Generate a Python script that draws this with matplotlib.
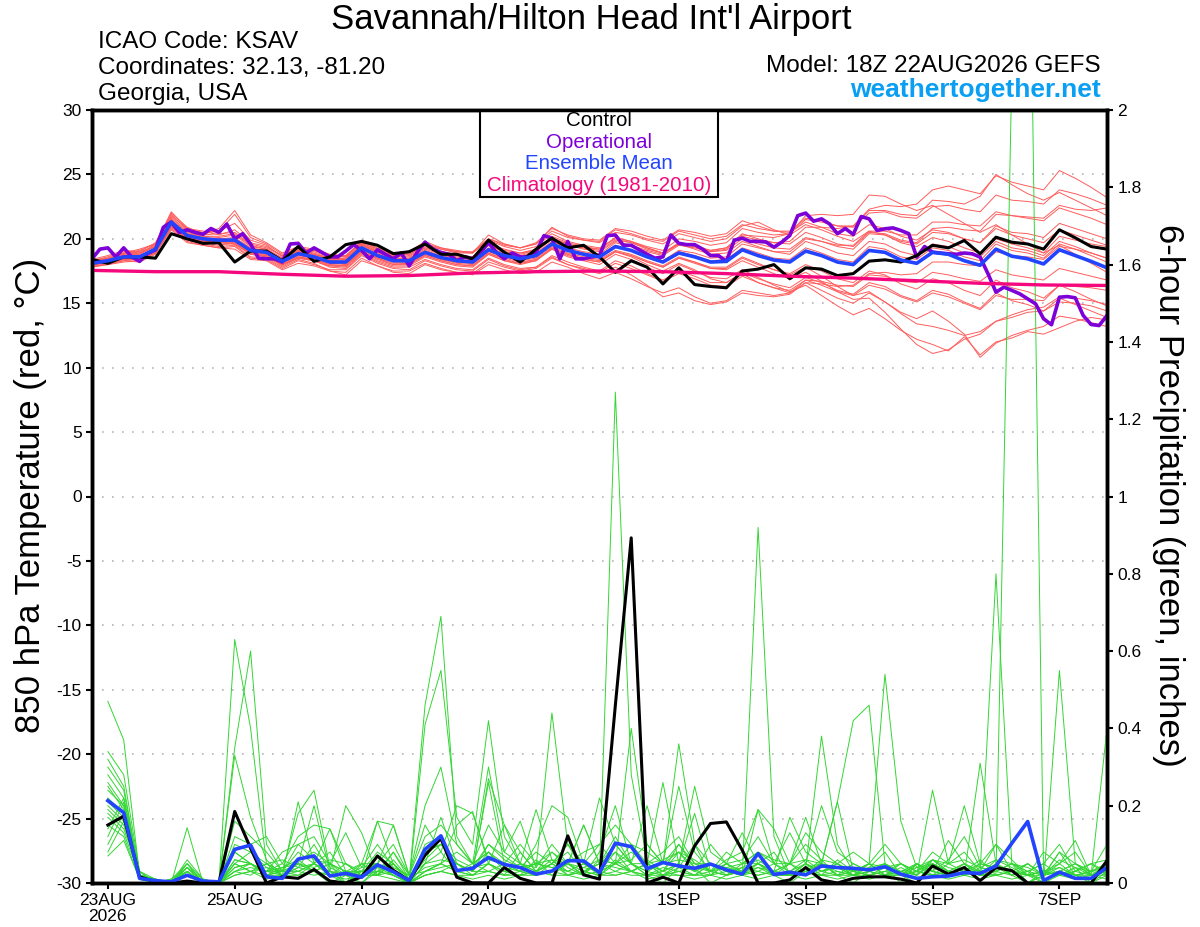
import matplotlib
matplotlib.use("Agg")
import matplotlib.pyplot as plt
from matplotlib.patches import Rectangle
from matplotlib import font_manager

plt.rcParams['font.family'] = ['Liberation Sans', 'DejaVu Sans']

# forecast hours since 18Z 22AUG2026
fhours_6 = list(range(0, 385, 6))
fhours_3 = list(range(0, 385, 3))
fhours_precip = list(range(6, 385, 6))

tick_hours = [6, 54, 102, 150, 222, 270, 318, 366]
tick_labels = ['23AUG\n2026', '25AUG', '27AUG', '29AUG', '1SEP', '3SEP', '5SEP', '7SEP']

# 850 hPa temperature (C)
control_t = [18.4, 18.1, 18.6, 18.6, 18.5, 20.4, 20.0, 19.65,
             19.7, 18.2, 19.05, 19.05, 18.3, 19.4, 18.25, 18.6,
             19.55, 19.8, 19.5, 18.85, 19.0, 19.6, 18.8, 18.8,
             18.45, 19.9, 18.95, 18.2, 19.2, 20.05, 19.3, 19.5,
             18.6, 17.4, 18.3, 17.8, 16.5, 17.75, 16.45, 16.3,
             16.2, 17.5, 17.65, 18.0, 16.9, 17.75, 17.65, 17.15,
             17.3, 18.27, 18.37, 18.2, 18.7, 19.5, 19.3, 19.87,
             18.84, 20.13, 19.74, 19.6, 19.2, 20.7, 20.08, 19.4,
             19.2]

mean_t = [18.1, 18.3, 18.6, 18.6, 19.2, 21.3, 20.25, 20.0,
          19.9, 19.9, 19.1, 18.95, 18.25, 18.85, 18.6, 18.2,
          18.2, 19.3, 18.7, 18.3, 18.3, 18.95, 18.55, 18.3,
          18.2, 19.15, 18.7, 18.45, 18.7, 19.6, 19.1, 18.8,
          18.6, 19.4, 19.1, 18.6, 18.2, 18.9, 18.6, 18.2,
          18.25, 19.15, 18.7, 18.35, 18.2, 19.05, 18.7, 18.2,
          18.0, 19.1, 18.95, 18.35, 18.1, 18.95, 18.8, 18.3,
          17.95, 19.2, 18.65, 18.45, 18.05, 19.15, 18.7, 18.25,
          17.75]

oper_t = [18.45, 19.2, 19.3, 18.6, 19.3, 18.6, 18.25, 18.85, 19.15, 20.9, 21.3,
          20.5, 20.7, 20.5, 20.35, 20.8, 20.5, 21.15, 20.0, 20.4, 19.6, 18.5,
          18.45, 18.45, 18.2, 19.6, 19.65, 18.9, 19.3, 18.95, 18.6, 18.6, 19.05,
          19.55, 19.1, 18.45, 19.15, 18.8, 18.45, 18.9, 17.9, 18.95, 19.75, 19.2,
          18.95, 18.8, 18.3, 18.6, 18.45, 18.95, 19.7, 18.95, 18.45, 18.9, 18.6,
          18.6, 18.95, 20.25, 20.05, 18.45, 19.8, 18.45, 18.45, 18.6, 18.7, 20.25,
          20.3, 19.5, 19.5, 19.15, 18.8, 18.5, 18.6, 20.3, 19.65, 19.55, 19.55,
          19.2, 18.7, 18.7, 18.25, 19.9, 20.05, 19.8, 19.8, 19.75, 19.35, 19.75,
          20.26, 21.8, 22.0, 21.37, 21.55, 21.16, 20.4, 20.8, 20.34, 21.73, 21.55,
          20.65, 20.78, 20.85, 20.65, 20.4, 18.58, 19.4, 18.97, 18.9, 18.84, 18.8,
          18.9, 18.84, 18.58, 17.28, 15.86, 16.25, 16.0, 15.73, 15.34, 14.95, 13.8,
          13.33, 15.47, 15.52, 15.42, 14.05, 13.35, 13.27, 14.05]

clim_hours = list(range(0, 385, 24))
clim_t = [17.55, 17.45, 17.45, 17.25, 17.1, 17.15, 17.35, 17.45, 17.5,
          17.45, 17.3, 17.1, 16.95, 16.75, 16.55, 16.42, 16.38]

temp_members = [
    [18.3, 18.6, 19.0, 18.9, 19.5, 21.7, 20.6, 20.3, 20.4, 20.5, 19.6, 19.3, 18.7,
     19.2, 19.0, 18.6, 18.7, 19.7, 19.1, 18.7, 18.8, 19.4, 19.0, 18.8, 18.6, 19.6,
     19.2, 18.9, 19.2, 20.2, 19.7, 19.4, 19.2, 20.1, 19.8, 19.3, 18.9, 19.6, 19.4,
     19.0, 19.1, 20.0, 19.6, 19.3, 19.2, 20.1, 19.8, 19.4, 19.2, 20.4, 20.3, 19.8,
     19.6, 20.5, 20.4, 20.0, 19.7, 21.0, 20.5, 20.4, 20.1, 21.2, 20.8, 20.4, 20.0],
    [17.9, 18.0, 18.3, 18.2, 18.8, 20.8, 19.8, 19.5, 19.3, 19.4, 18.5, 18.4, 17.7,
     18.3, 18.0, 17.6, 17.6, 18.7, 18.1, 17.7, 17.6, 18.3, 17.9, 17.6, 17.5, 18.4,
     17.9, 17.6, 17.8, 18.7, 18.2, 17.8, 17.5, 18.3, 17.9, 17.3, 16.8, 17.5, 17.1,
     16.6, 16.6, 17.4, 16.9, 16.5, 16.2, 17.0, 16.6, 16.0, 15.7, 16.6, 16.3, 15.6,
     15.2, 16.0, 15.7, 15.1, 14.6, 15.8, 15.2, 14.9, 14.4, 15.4, 14.9, 14.4, 13.9],
    [18.0, 18.4, 18.9, 18.8, 19.6, 22.0, 20.9, 20.4, 20.6, 21.2, 19.9, 19.5, 18.6,
     19.1, 18.8, 18.5, 18.4, 19.6, 19.0, 18.8, 18.9, 19.6, 19.2, 19.0, 19.0, 20.0,
     19.5, 19.3, 19.6, 20.6, 20.1, 19.9, 19.8, 20.7, 20.4, 20.0, 19.8, 20.6, 20.3,
     20.0, 20.2, 21.1, 20.8, 20.6, 20.6, 21.6, 21.4, 21.0, 20.9, 22.0, 22.1, 21.7,
     21.6, 22.5, 22.6, 22.3, 22.1, 23.4, 23.0, 22.9, 22.7, 23.8, 23.5, 23.1, 22.6],
    [18.2, 18.5, 18.8, 19.0, 19.4, 21.5, 20.4, 20.2, 20.1, 20.3, 19.4, 19.2, 18.5,
     19.0, 18.8, 18.4, 18.5, 19.5, 19.0, 18.6, 18.7, 19.3, 19.0, 18.7, 18.6, 19.5,
     19.1, 18.9, 19.1, 20.0, 19.6, 19.3, 19.1, 19.9, 19.7, 19.2, 18.9, 19.7, 19.5,
     19.1, 19.3, 20.2, 19.9, 19.7, 19.8, 20.9, 20.9, 20.8, 21.0, 22.3, 22.6, 22.5,
     22.7, 23.8, 24.1, 23.8, 23.5, 24.9, 24.4, 24.1, 23.8, 25.3, 24.7, 24.0, 23.2],
    [18.1, 18.2, 18.4, 18.5, 19.0, 20.9, 20.0, 19.8, 19.6, 19.6, 18.8, 18.6, 17.9,
     18.5, 18.3, 17.9, 17.8, 18.9, 18.3, 17.9, 17.9, 18.6, 18.2, 17.9, 17.8, 18.8,
     18.3, 18.0, 18.3, 19.2, 18.6, 18.3, 18.0, 18.8, 18.4, 17.8, 17.3, 18.0, 17.5,
     17.0, 16.9, 17.6, 17.0, 16.4, 15.9, 16.4, 15.6, 14.8, 14.1, 14.6, 13.8, 12.9,
     12.2, 11.8, 11.3, 12.4, 11.0, 12.0, 12.3, 12.8, 12.6, 13.1, 13.6, 13.9, 13.7],
    [18.0, 18.3, 18.5, 18.7, 19.1, 21.1, 20.1, 19.9, 19.7, 19.8, 18.9, 18.8, 18.0,
     18.6, 18.4, 18.0, 17.9, 19.0, 18.5, 18.0, 18.1, 18.7, 18.3, 18.0, 17.9, 18.9,
     18.4, 18.1, 18.3, 19.3, 18.8, 18.4, 18.2, 19.0, 18.6, 18.0, 17.5, 18.1, 17.6,
     16.9, 16.6, 17.3, 16.6, 16.2, 15.8, 16.6, 16.0, 15.4, 15.0, 15.8, 15.1, 14.3,
     13.8, 14.4, 13.6, 12.6, 10.8, 11.9, 12.5, 12.9, 13.2, 14.0, 13.8, 13.5, 13.2],
    [18.2, 18.4, 18.7, 18.6, 19.3, 21.2, 20.3, 20.1, 19.8, 20.0, 19.2, 19.0, 18.3,
     18.9, 18.7, 18.3, 18.2, 19.3, 18.8, 18.4, 18.4, 19.0, 18.6, 18.4, 18.3, 19.2,
     18.8, 18.5, 18.8, 19.7, 19.2, 18.9, 18.7, 19.5, 19.1, 18.7, 18.3, 19.0, 18.7,
     18.3, 18.4, 19.3, 18.9, 18.5, 18.4, 19.3, 18.9, 18.4, 18.2, 19.4, 19.2, 18.6,
     18.4, 19.3, 19.1, 18.6, 18.3, 19.6, 19.1, 18.9, 18.5, 19.6, 19.2, 18.7, 18.2],
    [18.4, 18.7, 19.1, 19.0, 19.7, 21.9, 20.7, 20.5, 20.6, 21.9, 20.1, 19.6, 18.8,
     19.3, 19.1, 18.7, 18.6, 19.9, 19.2, 18.9, 19.0, 19.8, 19.3, 19.1, 18.9, 20.3,
     19.6, 19.3, 19.6, 20.9, 20.2, 19.9, 19.7, 20.5, 20.3, 19.9, 19.6, 20.4, 20.1,
     19.8, 20.0, 21.0, 21.3, 20.7, 20.3, 21.1, 20.7, 20.2, 19.8, 20.6, 20.3, 19.7,
     19.4, 20.1, 19.8, 19.3, 18.9, 20.0, 19.6, 19.3, 18.9, 20.2, 19.9, 19.6, 19.4],
    [17.8, 18.0, 18.2, 18.3, 18.9, 20.9, 19.9, 19.6, 19.4, 19.5, 18.6, 18.5, 17.8,
     18.4, 18.1, 17.5, 17.2, 18.3, 17.9, 17.4, 17.3, 18.0, 17.6, 17.4, 17.2, 18.0,
     17.6, 17.3, 17.4, 18.2, 17.8, 17.3, 16.9, 17.4, 16.9, 16.3, 15.8, 16.2, 15.5,
     15.0, 15.2, 16.0, 15.8, 15.6, 15.8, 16.8, 16.7, 16.4, 16.3, 17.2, 17.1, 16.7,
     16.6, 17.4, 17.2, 16.9, 16.7, 17.6, 17.2, 17.0, 16.8, 17.7, 17.4, 17.1, 16.8],
    [18.3, 18.5, 18.9, 19.1, 19.6, 21.8, 20.8, 20.6, 20.3, 20.7, 19.7, 19.4, 18.7,
     19.2, 19.1, 18.7, 18.6, 19.7, 19.2, 18.8, 18.8, 19.5, 19.2, 18.9, 18.9, 20.0,
     19.6, 19.3, 19.7, 20.8, 20.3, 20.0, 19.9, 20.8, 20.6, 20.2, 19.9, 20.7, 20.5,
     20.2, 20.4, 21.4, 21.0, 20.6, 20.5, 21.3, 20.9, 20.4, 20.2, 21.1, 20.8, 20.2,
     19.9, 20.7, 20.5, 20.0, 19.7, 20.8, 20.3, 20.0, 19.7, 20.7, 20.3, 19.9, 19.5],
    [18.0, 18.2, 18.5, 18.4, 19.1, 21.0, 20.0, 19.8, 19.7, 19.6, 18.8, 18.7, 18.0,
     18.6, 18.3, 17.9, 17.9, 19.0, 18.4, 18.0, 18.0, 18.7, 18.3, 18.0, 17.9, 18.8,
     18.3, 18.1, 18.4, 19.2, 18.7, 18.4, 18.2, 19.0, 18.7, 18.2, 17.8, 18.5, 18.2,
     17.7, 17.7, 18.5, 18.0, 17.6, 17.3, 18.0, 17.5, 16.9, 16.6, 17.5, 17.2, 16.5,
     16.1, 16.9, 16.6, 16.0, 15.6, 16.8, 16.2, 15.9, 15.4, 16.4, 15.9, 15.3, 14.8],
    [18.1, 18.3, 18.7, 18.6, 19.2, 21.4, 20.3, 20.0, 20.0, 20.1, 19.3, 19.1, 18.4,
     19.0, 18.8, 18.4, 18.4, 19.5, 18.9, 18.5, 18.5, 19.2, 18.8, 18.5, 18.5, 19.5,
     19.0, 18.8, 19.1, 20.1, 19.6, 19.3, 19.2, 20.1, 19.8, 19.4, 19.1, 20.0, 19.8,
     19.5, 19.7, 20.8, 20.5, 20.3, 20.4, 21.5, 21.3, 21.0, 21.0, 22.2, 22.2, 21.9,
     21.8, 23.0, 22.9, 22.7, 23.3, 25.0, 24.2, 23.5, 23.0, 23.6, 23.0, 22.4, 21.8],
    [18.0, 18.1, 18.4, 18.4, 18.9, 21.0, 20.0, 19.7, 19.5, 19.7, 18.9, 18.6, 18.0,
     18.5, 18.3, 17.8, 17.7, 18.8, 18.2, 17.8, 17.8, 18.4, 18.0, 17.7, 17.6, 18.5,
     18.0, 17.7, 17.8, 18.6, 18.0, 17.6, 17.3, 17.8, 17.2, 16.4, 15.5, 15.8, 15.2,
     14.9, 15.1, 15.8, 15.6, 15.5, 15.7, 16.6, 16.5, 16.3, 16.4, 17.3, 17.4, 17.2,
     17.3, 18.2, 18.2, 18.0, 17.9, 19.0, 18.7, 18.6, 18.4, 19.4, 19.2, 18.9, 18.5],
    [18.2, 18.4, 18.8, 18.8, 19.4, 21.3, 20.4, 20.1, 20.0, 20.0, 19.2, 19.1, 18.4,
     19.0, 18.7, 18.3, 18.3, 19.4, 18.8, 18.4, 18.5, 19.1, 18.7, 18.5, 18.4, 19.3,
     18.9, 18.6, 18.9, 19.8, 19.3, 19.0, 18.8, 19.7, 19.4, 19.0, 18.7, 19.5, 19.3,
     19.0, 19.2, 20.3, 20.2, 20.1, 20.4, 21.8, 21.9, 21.8, 21.9, 23.4, 23.3, 22.7,
     22.2, 22.6, 21.9, 21.2, 20.5, 21.1, 20.3, 19.6, 18.9, 19.5, 18.8, 18.1, 17.4],
    [18.1, 18.3, 18.6, 18.6, 19.1, 21.1, 20.1, 19.9, 19.8, 19.7, 19.0, 18.8, 18.1,
     18.7, 18.5, 18.1, 18.0, 19.1, 18.6, 18.2, 18.2, 18.8, 18.4, 18.2, 18.1, 19.0,
     18.6, 18.3, 18.5, 19.4, 18.9, 18.6, 18.4, 19.1, 18.8, 18.3, 17.9, 18.6, 18.2,
     17.8, 17.8, 18.6, 18.1, 17.6, 17.2, 17.8, 17.1, 16.3, 15.6, 15.9, 15.1, 14.2,
     13.4, 13.2, 12.9, 12.5, 12.8, 13.6, 13.9, 14.3, 14.4, 15.1, 15.0, 14.8, 14.4],
    [18.3, 18.5, 18.9, 19.2, 19.6, 22.1, 20.8, 20.4, 20.8, 22.2, 20.3, 19.7, 18.9,
     19.4, 19.2, 18.8, 18.7, 19.8, 19.3, 18.9, 19.0, 19.6, 19.3, 19.0, 18.9, 19.9,
     19.4, 19.1, 19.4, 20.4, 19.8, 19.5, 19.3, 20.0, 19.7, 19.3, 18.9, 19.6, 19.2,
     18.8, 18.9, 19.8, 19.4, 19.0, 18.8, 19.8, 19.4, 18.9, 18.7, 19.8, 19.6, 19.0,
     18.7, 19.6, 19.4, 18.9, 18.6, 19.8, 19.3, 19.1, 18.7, 19.8, 19.4, 18.9, 18.5],
    [17.9, 18.2, 18.5, 18.5, 19.1, 21.2, 20.2, 19.9, 19.8, 19.8, 19.0, 18.9, 18.2,
     18.8, 18.5, 18.1, 18.1, 19.2, 18.6, 18.2, 18.2, 18.9, 18.5, 18.2, 18.1, 19.1,
     18.6, 18.4, 18.6, 19.5, 19.1, 18.8, 18.6, 19.4, 19.1, 18.7, 18.3, 19.1, 18.9,
     18.5, 18.6, 19.6, 19.3, 19.0, 19.0, 20.0, 19.8, 19.5, 19.5, 20.6, 20.6, 20.3,
     20.3, 21.3, 21.3, 21.1, 21.0, 22.1, 21.8, 21.7, 21.6, 22.6, 22.3, 22.2, 22.4],
    [17.8, 18.1, 18.3, 18.4, 18.9, 20.7, 19.7, 19.5, 19.3, 19.2, 18.4, 18.3, 17.6,
     18.1, 17.9, 17.5, 17.4, 18.5, 17.9, 17.5, 17.5, 18.1, 17.7, 17.4, 17.3, 18.2,
     17.8, 17.5, 17.7, 18.5, 18.0, 17.7, 17.4, 18.1, 17.7, 17.2, 16.7, 17.3, 16.9,
     16.4, 16.3, 17.1, 16.6, 16.2, 16.0, 16.8, 16.4, 15.9, 15.6, 16.4, 16.1, 15.5,
     15.1, 15.8, 15.5, 15.0, 14.5, 15.6, 15.3, 15.3, 15.2, 16.4, 16.3, 16.2, 16.0],
    [18.2, 18.4, 18.7, 18.9, 19.4, 21.6, 20.5, 20.2, 20.2, 20.4, 19.5, 19.2, 18.5,
     19.1, 18.9, 18.5, 18.5, 19.6, 19.0, 18.6, 18.6, 19.3, 18.9, 18.6, 18.5, 19.5,
     19.0, 18.7, 19.0, 20.0, 19.5, 19.2, 19.0, 19.8, 19.5, 19.1, 18.8, 19.6, 19.4,
     19.1, 19.3, 20.4, 20.0, 19.7, 19.6, 20.5, 20.1, 19.6, 19.4, 20.5, 20.4, 19.9,
     19.7, 20.8, 20.9, 20.7, 20.6, 21.9, 21.8, 21.6, 21.4, 22.4, 22.0, 21.6, 21.1],
    [18.1, 18.2, 18.5, 18.6, 19.0, 21.0, 20.1, 19.8, 19.8, 19.6, 18.9, 18.7, 18.0,
     18.6, 18.4, 18.0, 17.9, 19.0, 18.5, 18.1, 18.1, 18.8, 18.4, 18.1, 18.0, 18.9,
     18.5, 18.2, 18.4, 19.3, 18.8, 18.5, 18.3, 19.0, 18.7, 18.2, 17.8, 18.5, 18.1,
     17.7, 17.6, 18.3, 17.8, 17.3, 16.9, 17.4, 16.7, 15.9, 15.3, 15.4, 14.3, 13.0,
     11.8, 11.1, 11.4, 12.2, 12.6, 13.6, 14.1, 14.5, 14.7, 15.5, 15.4, 15.2, 14.9],
]

# 6-hour precipitation (inches)
control_p = [0.15, 0.173, 0.016, 0.003, 0.0, 0.005, 0.0, 0.0,
             0.185, 0.09, 0.0, 0.016, 0.012, 0.035, 0.005, 0.0,
             0.016, 0.07, 0.033, 0.006, 0.072, 0.115, 0.015, 0.0,
             0.0, 0.04, 0.012, 0.0, 0.0, 0.122, 0.021, 0.01,
             0.46, 0.893, 0.0, 0.015, 0.0, 0.096, 0.154, 0.158,
             0.085, 0.0, 0.0, 0.008, 0.04, 0.008, 0.0, 0.012,
             0.016, 0.016, 0.01, 0.0, 0.044, 0.023, 0.04, 0.006,
             0.04, 0.032, 0.0, 0.0, 0.0, 0.0, 0.0, 0.058]

mean_p = [0.213, 0.182, 0.012, 0.006, 0.003, 0.02, 0.005, 0.003,
          0.087, 0.098, 0.016, 0.012, 0.062, 0.07, 0.018, 0.025,
          0.015, 0.047, 0.029, 0.006, 0.087, 0.122, 0.032, 0.038,
          0.066, 0.048, 0.04, 0.023, 0.031, 0.058, 0.057, 0.027,
          0.103, 0.094, 0.037, 0.053, 0.044, 0.038, 0.049, 0.034,
          0.023, 0.076, 0.022, 0.028, 0.021, 0.044, 0.04, 0.038,
          0.034, 0.042, 0.023, 0.012, 0.016, 0.018, 0.027, 0.025,
          0.044, 0.103, 0.159, 0.006, 0.028, 0.012, 0.012, 0.04]

precip_members = [
    [0.47, 0.37, 0.02, 0.0, 0.0, 0.03, 0.0, 0.0,
     0.63, 0.4, 0.05, 0.02, 0.06, 0.03, 0.0, 0.02,
     0.0, 0.04, 0.02, 0.0, 0.1, 0.12, 0.03, 0.02,
     0.05, 0.02, 0.08, 0.03, 0.06, 0.02, 0.04, 0.03,
     1.27, 0.28, 0.06, 0.03, 0.08, 0.04, 0.0, 0.02,
     0.03, 0.05, 0.02, 0.0, 0.03, 0.06, 0.02, 0.0,
     0.03, 0.05, 0.02, 0.0, 0.06, 0.03, 0.02, 0.05,
     0.1, 0.03, 0.0, 0.02, 0.08, 0.02, 0.0, 0.03],
    [0.34, 0.28, 0.03, 0.01, 0.0, 0.143, 0.0, 0.0,
     0.35, 0.6, 0.1, 0.03, 0.02, 0.05, 0.03, 0.0,
     0.05, 0.02, 0.08, 0.01, 0.46, 0.69, 0.12, 0.05,
     0.08, 0.03, 0.02, 0.06, 0.02, 0.05, 0.02, 0.08,
     0.2, 0.05, 0.02, 0.0, 0.04, 0.02, 0.05, 0.03,
     0.02, 0.92, 0.12, 0.02, 0.05, 0.02, 0.06, 0.03,
     0.02, 0.04, 0.0, 0.05, 0.03, 0.02, 0.04, 0.02,
     0.05, 0.02, 0.0, 0.03, 0.02, 0.04, 0.0, 0.02],
    [0.32, 0.25, 0.02, 0.0, 0.01, 0.05, 0.01, 0.0,
     0.33, 0.17, 0.06, 0.02, 0.21, 0.05, 0.02, 0.0,
     0.02, 0.16, 0.05, 0.0, 0.41, 0.55, 0.17, 0.1,
     0.42, 0.12, 0.05, 0.03, 0.08, 0.04, 0.02, 0.06,
     0.05, 0.4, 0.1, 0.05, 0.25, 0.08, 0.03, 0.02,
     0.04, 0.06, 0.03, 0.02, 0.04, 0.38, 0.1, 0.03,
     0.05, 0.02, 0.03, 0.02, 0.24, 0.05, 0.03, 0.02,
     0.06, 0.04, 0.02, 0.03, 0.05, 0.02, 0.01, 0.06],
    [0.30, 0.24, 0.02, 0.01, 0.0, 0.04, 0.0, 0.0,
     0.16, 0.12, 0.08, 0.03, 0.18, 0.24, 0.04, 0.02,
     0.03, 0.05, 0.15, 0.02, 0.2, 0.3, 0.1, 0.05,
     0.3, 0.08, 0.16, 0.04, 0.44, 0.1, 0.05, 0.03,
     0.08, 0.05, 0.2, 0.05, 0.36, 0.1, 0.02, 0.05,
     0.03, 0.04, 0.02, 0.05, 0.17, 0.05, 0.21, 0.42,
     0.46, 0.05, 0.02, 0.05, 0.03, 0.11, 0.05, 0.03,
     0.8, 0.05, 0.0, 0.02, 0.04, 0.02, 0.03, 0.05],
    [0.28, 0.22, 0.03, 0.0, 0.0, 0.06, 0.01, 0.0,
     0.12, 0.1, 0.12, 0.05, 0.12, 0.15, 0.14, 0.05,
     0.02, 0.03, 0.08, 0.02, 0.05, 0.17, 0.05, 0.03,
     0.27, 0.15, 0.05, 0.19, 0.06, 0.03, 0.05, 0.02,
     0.06, 0.03, 0.05, 0.26, 0.05, 0.18, 0.03, 0.06,
     0.08, 0.19, 0.05, 0.03, 0.06, 0.03, 0.04, 0.02,
     0.05, 0.54, 0.16, 0.04, 0.05, 0.02, 0.03, 0.06,
     0.02, 2.1, 2.9, 0.02, 0.03, 0.05, 0.02, 0.04],
    [0.26, 0.2, 0.02, 0.01, 0.0, 0.03, 0.0, 0.0,
     0.08, 0.05, 0.03, 0.08, 0.1, 0.06, 0.05, 0.13,
     0.04, 0.1, 0.04, 0.02, 0.15, 0.08, 0.2, 0.18,
     0.06, 0.05, 0.03, 0.1, 0.2, 0.17, 0.05, 0.22,
     0.1, 0.05, 0.03, 0.02, 0.05, 0.25, 0.08, 0.05,
     0.13, 0.05, 0.03, 0.17, 0.08, 0.05, 0.21, 0.03,
     0.05, 0.02, 0.04, 0.02, 0.05, 0.03, 0.02, 0.31,
     0.05, 0.03, 0.02, 0.0, 0.55, 0.05, 0.03, 0.05],
    [0.25, 0.19, 0.01, 0.0, 0.01, 0.04, 0.0, 0.0,
     0.05, 0.08, 0.05, 0.06, 0.04, 0.1, 0.03, 0.2,
     0.13, 0.02, 0.06, 0.01, 0.08, 0.1, 0.05, 0.03,
     0.1, 0.07, 0.04, 0.05, 0.08, 0.05, 0.15, 0.05,
     0.08, 0.03, 0.05, 0.06, 0.08, 0.03, 0.1, 0.05,
     0.02, 0.19, 0.14, 0.05, 0.13, 0.08, 0.05, 0.02,
     0.04, 0.08, 0.02, 0.05, 0.03, 0.06, 0.12, 0.04,
     0.03, 0.05, 0.04, 0.02, 0.05, 0.08, 0.02, 0.4],
    [0.22, 0.18, 0.02, 0.0, 0.0, 0.05, 0.0, 0.0,
     0.06, 0.05, 0.03, 0.02, 0.05, 0.2, 0.03, 0.02,
     0.05, 0.16, 0.15, 0.02, 0.03, 0.05, 0.15, 0.185,
     0.05, 0.15, 0.08, 0.03, 0.05, 0.1, 0.03, 0.05,
     0.1, 0.05, 0.03, 0.05, 0.1, 0.04, 0.03, 0.08,
     0.05, 0.05, 0.03, 0.02, 0.05, 0.2, 0.08, 0.05,
     0.03, 0.02, 0.05, 0.03, 0.06, 0.05, 0.2, 0.05,
     0.04, 0.03, 0.02, 0.08, 0.05, 0.11, 0.02, 0.03],
    [0.21, 0.17, 0.02, 0.01, 0.0, 0.03, 0.0, 0.0,
     0.05, 0.03, 0.05, 0.03, 0.08, 0.05, 0.14, 0.03,
     0.02, 0.05, 0.03, 0.0, 0.05, 0.06, 0.05, 0.03,
     0.26, 0.05, 0.1, 0.05, 0.04, 0.05, 0.15, 0.05,
     0.12, 0.05, 0.05, 0.03, 0.1, 0.05, 0.03, 0.02,
     0.05, 0.08, 0.05, 0.13, 0.05, 0.03, 0.05, 0.02,
     0.05, 0.1, 0.05, 0.03, 0.02, 0.05, 0.08, 0.03,
     0.1, 0.06, 0.02, 0.03, 0.02, 0.03, 0.05, 0.02],
    [0.2, 0.16, 0.01, 0.0, 0.0, 0.02, 0.0, 0.0,
     0.04, 0.05, 0.02, 0.04, 0.06, 0.08, 0.05, 0.0,
     0.03, 0.08, 0.05, 0.01, 0.04, 0.05, 0.08, 0.05,
     0.08, 0.05, 0.04, 0.08, 0.05, 0.1, 0.05, 0.1,
     0.05, 0.1, 0.08, 0.05, 0.06, 0.05, 0.05, 0.04,
     0.03, 0.05, 0.08, 0.02, 0.03, 0.05, 0.02, 0.03,
     0.02, 0.03, 0.05, 0.02, 0.06, 0.03, 0.05, 0.02,
     0.03, 0.05, 0.03, 0.02, 0.08, 0.05, 0.03, 0.1],
    [0.19, 0.15, 0.02, 0.0, 0.0, 0.05, 0.0, 0.0,
     0.03, 0.04, 0.03, 0.05, 0.03, 0.05, 0.08, 0.02,
     0.0, 0.03, 0.05, 0.0, 0.03, 0.04, 0.05, 0.02,
     0.05, 0.03, 0.02, 0.03, 0.05, 0.02, 0.03, 0.05,
     0.03, 0.05, 0.02, 0.03, 0.05, 0.03, 0.02, 0.05,
     0.03, 0.02, 0.03, 0.05, 0.02, 0.03, 0.05, 0.03,
     0.02, 0.03, 0.02, 0.05, 0.02, 0.03, 0.05, 0.02,
     0.03, 0.02, 0.05, 0.02, 0.03, 0.02, 0.03, 0.05],
    [0.18, 0.14, 0.03, 0.0, 0.01, 0.03, 0.0, 0.0,
     0.1, 0.08, 0.04, 0.03, 0.1, 0.12, 0.05, 0.03,
     0.05, 0.05, 0.1, 0.02, 0.12, 0.15, 0.1, 0.05,
     0.15, 0.08, 0.05, 0.04, 0.1, 0.05, 0.08, 0.1,
     0.15, 0.1, 0.05, 0.08, 0.12, 0.05, 0.03, 0.05,
     0.06, 0.12, 0.05, 0.05, 0.1, 0.06, 0.05, 0.08,
     0.05, 0.04, 0.05, 0.03, 0.08, 0.05, 0.06, 0.04,
     0.06, 0.05, 0.03, 0.05, 0.1, 0.03, 0.05, 0.06],
    [0.17, 0.13, 0.02, 0.0, 0.0, 0.02, 0.0, 0.0,
     0.08, 0.05, 0.02, 0.03, 0.05, 0.03, 0.02, 0.05,
     0.02, 0.03, 0.02, 0.0, 0.05, 0.08, 0.03, 0.02,
     0.05, 0.03, 0.05, 0.02, 0.03, 0.05, 0.02, 0.03,
     0.05, 0.03, 0.05, 0.02, 0.04, 0.1, 0.05, 0.02,
     0.03, 0.05, 0.02, 0.03, 0.05, 0.03, 0.02, 0.05,
     0.03, 0.05, 0.02, 0.03, 0.05, 0.02, 0.03, 0.02,
     0.05, 0.02, 0.03, 0.0, 0.02, 0.03, 0.05, 0.03],
    [0.15, 0.12, 0.01, 0.0, 0.0, 0.04, 0.01, 0.0,
     0.05, 0.03, 0.04, 0.02, 0.04, 0.05, 0.03, 0.02,
     0.04, 0.05, 0.03, 0.01, 0.06, 0.1, 0.05, 0.03,
     0.08, 0.04, 0.03, 0.05, 0.04, 0.03, 0.05, 0.03,
     0.05, 0.08, 0.05, 0.03, 0.05, 0.03, 0.05, 0.03,
     0.04, 0.03, 0.05, 0.02, 0.04, 0.05, 0.03, 0.02,
     0.03, 0.04, 0.03, 0.02, 0.05, 0.03, 0.02, 0.04,
     0.03, 0.05, 0.02, 0.03, 0.04, 0.02, 0.03, 0.02],
    [0.14, 0.22, 0.02, 0.01, 0.0, 0.03, 0.0, 0.0,
     0.04, 0.05, 0.03, 0.03, 0.05, 0.03, 0.05, 0.03,
     0.03, 0.02, 0.05, 0.0, 0.03, 0.05, 0.03, 0.04,
     0.05, 0.03, 0.05, 0.03, 0.05, 0.08, 0.03, 0.05,
     0.04, 0.03, 0.05, 0.02, 0.03, 0.04, 0.05, 0.03,
     0.02, 0.05, 0.03, 0.05, 0.03, 0.05, 0.02, 0.03,
     0.05, 0.02, 0.03, 0.05, 0.03, 0.02, 0.05, 0.03,
     0.02, 0.03, 0.05, 0.02, 0.03, 0.05, 0.02, 0.03],
    [0.12, 0.21, 0.03, 0.0, 0.0, 0.02, 0.0, 0.0,
     0.03, 0.05, 0.02, 0.03, 0.03, 0.05, 0.02, 0.03,
     0.02, 0.03, 0.02, 0.0, 0.02, 0.03, 0.05, 0.03,
     0.03, 0.02, 0.03, 0.02, 0.05, 0.03, 0.02, 0.03,
     0.02, 0.03, 0.02, 0.03, 0.02, 0.02, 0.03, 0.02,
     0.03, 0.02, 0.03, 0.02, 0.03, 0.02, 0.03, 0.02,
     0.02, 0.03, 0.02, 0.03, 0.02, 0.03, 0.02, 0.03,
     0.02, 0.03, 0.02, 0.03, 0.02, 0.03, 0.02, 0.03],
    [0.1, 0.18, 0.02, 0.0, 0.0, 0.03, 0.0, 0.0,
     0.02, 0.03, 0.02, 0.02, 0.03, 0.02, 0.03, 0.02,
     0.02, 0.02, 0.03, 0.0, 0.02, 0.03, 0.02, 0.02,
     0.03, 0.02, 0.02, 0.03, 0.02, 0.02, 0.03, 0.02,
     0.03, 0.02, 0.02, 0.02, 0.03, 0.02, 0.02, 0.03,
     0.02, 0.03, 0.02, 0.02, 0.03, 0.02, 0.02, 0.02,
     0.03, 0.02, 0.02, 0.03, 0.02, 0.02, 0.03, 0.02,
     0.02, 0.03, 0.02, 0.02, 0.03, 0.02, 0.02, 0.02],
    [0.08, 0.16, 0.02, 0.0, 0.0, 0.04, 0.0, 0.0,
     0.03, 0.02, 0.05, 0.02, 0.04, 0.03, 0.05, 0.02,
     0.03, 0.05, 0.02, 0.0, 0.03, 0.05, 0.03, 0.05,
     0.03, 0.05, 0.03, 0.02, 0.03, 0.05, 0.03, 0.02,
     0.05, 0.03, 0.02, 0.04, 0.03, 0.02, 0.05, 0.03,
     0.02, 0.04, 0.03, 0.02, 0.05, 0.03, 0.04, 0.02,
     0.03, 0.05, 0.02, 0.04, 0.03, 0.02, 0.04, 0.03,
     0.04, 0.02, 0.03, 0.05, 0.02, 0.04, 0.02, 0.05],
    [0.07, 0.11, 0.01, 0.0, 0.0, 0.02, 0.0, 0.0,
     0.02, 0.03, 0.01, 0.02, 0.02, 0.03, 0.02, 0.01,
     0.02, 0.02, 0.01, 0.0, 0.02, 0.03, 0.02, 0.01,
     0.02, 0.01, 0.02, 0.02, 0.03, 0.02, 0.01, 0.02,
     0.02, 0.03, 0.01, 0.02, 0.02, 0.01, 0.02, 0.01,
     0.02, 0.01, 0.02, 0.02, 0.01, 0.02, 0.01, 0.02,
     0.01, 0.02, 0.02, 0.01, 0.02, 0.01, 0.02, 0.01,
     0.02, 0.01, 0.02, 0.01, 0.02, 0.01, 0.02, 0.01],
    [0.24, 0.2, 0.02, 0.01, 0.0, 0.03, 0.0, 0.0,
     0.06, 0.05, 0.03, 0.04, 0.05, 0.04, 0.06, 0.05,
     0.03, 0.04, 0.05, 0.01, 0.08, 0.1, 0.06, 0.04,
     0.1, 0.06, 0.04, 0.05, 0.06, 0.05, 0.04, 0.06,
     0.05, 0.06, 0.1, 0.05, 0.08, 0.06, 0.03, 0.04,
     0.05, 0.08, 0.06, 0.05, 0.06, 0.05, 0.04, 0.03,
     0.04, 0.05, 0.03, 0.04, 0.06, 0.04, 0.03, 0.05,
     0.04, 0.03, 0.05, 0.02, 0.06, 0.04, 0.03, 0.04],
]

installed = {f.name for f in font_manager.fontManager.ttflist}
tick_font = 'Liberation Sans Narrow' if 'Liberation Sans Narrow' in installed else 'Liberation Sans'

fig = plt.figure(figsize=(12, 9.27), dpi=100)
ax = fig.add_axes([92 / 1200, 44 / 927, 1015 / 1200, 773 / 927])
ax2 = ax.twinx()
ax.set_xlim(0, 384)
ax.set_ylim(-30, 30)
ax2.set_ylim(0, 2)

# dotted horizontal grid at the temperature ticks
for v in range(-25, 30, 5):
    ax.axhline(v, color='#b4b4b4', lw=1.2, ls=(0, (1, 5)), zorder=1)

for m in temp_members:
    ax.plot(fhours_6[:len(m)], m, color='#ff5c5c', lw=0.7, zorder=2)
for m in precip_members:
    ax.plot(fhours_precip[:len(m)], m, color='#33d633', lw=0.7, zorder=3,
            transform=ax2.transData)

ax.plot(fhours_3, oper_t, color='#7d00d8', lw=2.6, zorder=6)
ax.plot(fhours_6, control_t, color='black', lw=2.2, zorder=7)
ax.plot(fhours_6, mean_t, color='#2244ff', lw=2.6, zorder=8)
ax.plot(clim_hours, clim_t, color='#f5087e', lw=2.4, zorder=9)

ax.plot(fhours_precip, control_p, color='black', lw=2.2, zorder=7,
        transform=ax2.transData)
ax.plot(fhours_precip, mean_p, color='#2244ff', lw=2.6, zorder=8,
        transform=ax2.transData)

ax.set_xlim(0, 384)
ax.set_ylim(-30, 30)

ax.set_xticks(tick_hours)
ax.set_xticklabels(tick_labels)
ax.set_yticks(list(range(-30, 31, 5)))
ax.set_yticklabels([str(v) for v in range(-30, 31, 5)])
p_ticks = [0, 0.2, 0.4, 0.6, 0.8, 1, 1.2, 1.4, 1.6, 1.8, 2]
ax2.set_yticks(p_ticks)
ax2.set_yticklabels(['0', '0.2', '0.4', '0.6', '0.8', '1', '1.2', '1.4', '1.6', '1.8', '2'])

for a in (ax, ax2):
    a.tick_params(direction='out', length=4.5, width=1.5, labelsize=12.5, pad=3)
    for lab in a.get_xticklabels() + a.get_yticklabels():
        lab.set_fontfamily(tick_font)
    for s in a.spines.values():
        s.set_linewidth(2.5)
for lab in ax.get_xticklabels():
    lab.set_linespacing(1.05)

# legend box
ax.add_patch(Rectangle((0.382, 0.887), 0.235, 0.113, transform=ax.transAxes,
                       facecolor='white', edgecolor='black', lw=1.5, zorder=20))
leg_items = [('Control', 'black'), ('Operational', '#7d00d8'),
             ('Ensemble Mean', '#2244ff'), ('Climatology (1981-2010)', '#f5087e')]
for i, (txt, col) in enumerate(leg_items):
    ax.text(0.4995, 0.986 - i * 0.0278, txt, color=col, fontsize=14.8,
            ha='center', va='center', transform=ax.transAxes, zorder=21)

fig.text(591 / 1200, 1 - 29 / 927, "Savannah/Hilton Head Int'l Airport",
         fontsize=25, ha='center', va='baseline')
fig.text(98 / 1200, 1 - 48 / 927, 'ICAO Code: KSAV', fontsize=17.5, va='baseline')
fig.text(98 / 1200, 1 - 74 / 927, 'Coordinates: 32.13, -81.20', fontsize=17.5, va='baseline')
fig.text(98 / 1200, 1 - 100 / 927, 'Georgia, USA', fontsize=17.5, va='baseline')
fig.text(1101 / 1200, 1 - 72 / 927, 'Model: 18Z 22AUG2026 GEFS', fontsize=17.5,
         ha='right', va='baseline')
fig.text(1101 / 1200, 1 - 97 / 927, 'weathertogether.net', fontsize=19,
         fontweight='bold', color='#0a9ff2', ha='right', va='baseline')

fig.text(31 / 1200, 1 - 495 / 927, '850 hPa Temperature (red, \u00b0C)', fontsize=25,
         rotation=90, ha='center', va='center')
fig.text(1168 / 1200, 1 - 495 / 927, '6-hour Precipitation (green, inches)', fontsize=25,
         rotation=270, ha='center', va='center')

fig.savefig('out.png', dpi=100)
